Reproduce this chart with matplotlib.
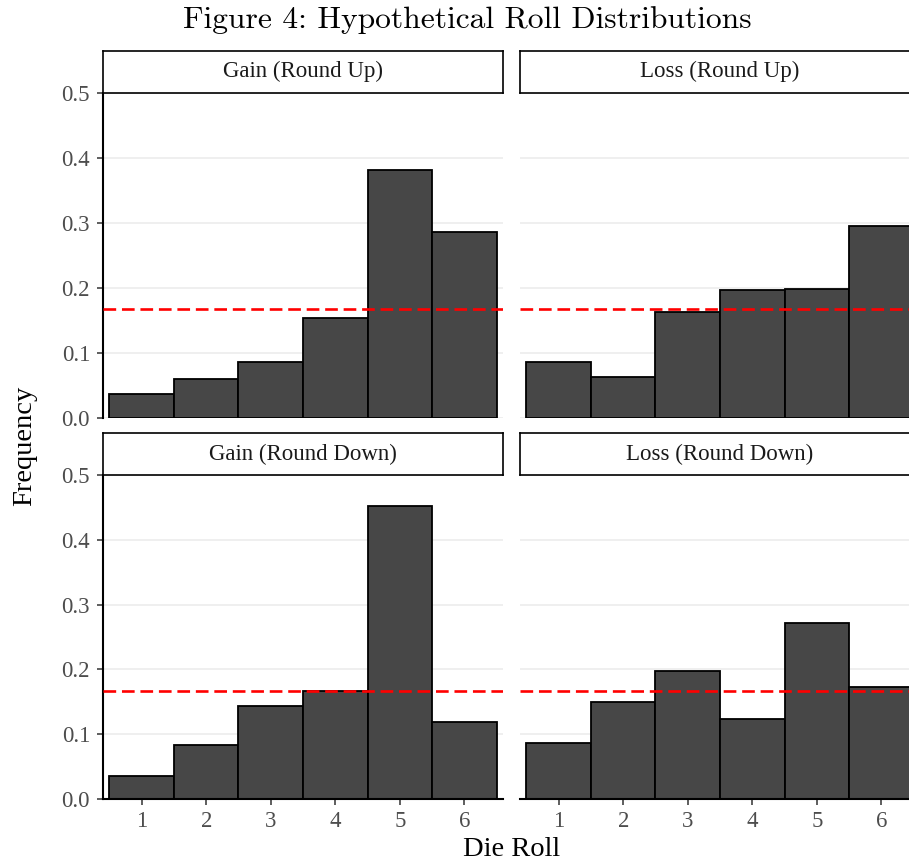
import numpy as np
import matplotlib.pyplot as plt

# die faces and observed frequencies, one list per facet
rolls = [1, 2, 3, 4, 5, 6]
gain_up = [0.036, 0.060, 0.085, 0.154, 0.381, 0.286]
loss_up = [0.086, 0.062, 0.162, 0.197, 0.198, 0.295]
gain_down = [0.036, 0.083, 0.143, 0.167, 0.452, 0.119]
loss_down = [0.086, 0.149, 0.198, 0.124, 0.272, 0.173]
panel_titles = ['Gain (Round Up)', 'Loss (Round Up)',
                'Gain (Round Down)', 'Loss (Round Down)']
y_ticks = [0.0, 0.1, 0.2, 0.3, 0.4, 0.5]
uniform = 1 / 6

W, H = 909, 864
fig = plt.figure(figsize=(W / 100, H / 100), dpi=100)
serif = 'Liberation Serif'


def box(x0, y0, w, h):
    # pixel box (from top-left) -> figure fraction rect
    return [x0 / W, 1 - (y0 + h) / H, w / W, h / H]


col_left = [103, 520]
row_top = [92.7, 475]
row_h = [325, 324]
strip_h = 41.7
panel_w = 400

series = [gain_up, loss_up, gain_down, loss_down]

for k, (vals, title) in enumerate(zip(series, panel_titles)):
    r, c = divmod(k, 2)
    ax = fig.add_axes(box(col_left[c], row_top[r], panel_w, row_h[r]))
    ax.bar(rolls, vals, width=1.0, color='#474747', edgecolor='black',
           linewidth=1.3, zorder=2)
    ax.axhline(uniform, color='red', linestyle=(0, (4.8, 2.2)),
               linewidth=1.9, zorder=3)
    ax.set_xlim(0.4, 6.6)
    ax.set_ylim(0, 0.5)
    ax.set_xticks(rolls)
    ax.set_yticks(y_ticks)
    ax.set_yticklabels(['%.1f' % t for t in y_ticks])
    ax.grid(axis='y', color='#EBEBEB', linewidth=1.1, zorder=0)
    ax.set_axisbelow(True)
    for s in ax.spines.values():
        s.set_visible(False)
    ax.tick_params(labelsize=16.5, labelcolor='#4D4D4D', color='#333333',
                   length=4.3, width=1.1)
    ax.tick_params(axis='y', pad=5)
    ax.tick_params(axis='x', pad=4)
    for lab in ax.get_xticklabels() + ax.get_yticklabels():
        lab.set_family(serif)
    if c == 0:
        ax.spines['left'].set_visible(True)
        ax.spines['left'].set_linewidth(1.5)
    else:
        ax.tick_params(axis='y', left=False, labelleft=False)
    if r == 1:
        ax.spines['bottom'].set_visible(True)
        ax.spines['bottom'].set_linewidth(1.5)
    else:
        ax.tick_params(axis='x', bottom=False, labelbottom=False)

    # facet strip
    sx = fig.add_axes(box(col_left[c], row_top[r] - strip_h, panel_w, strip_h))
    sx.set_xticks([])
    sx.set_yticks([])
    for s in sx.spines.values():
        s.set_linewidth(1.2)
        s.set_color('black')
    sx.text(0.5, 0.5, title, ha='center', va='center', fontsize=16.5,
            family=serif, color='#1A1A1A', transform=sx.transAxes)

fig.text(467 / W, 1 - 28 / H, 'Figure 4: Hypothetical Roll Distributions',
         ha='center', va='baseline', fontsize=22.7, family='cmr10')
fig.text(25 / W, 1 - 446 / H, 'Frequency', rotation=90, ha='center',
         va='center', fontsize=20.5, family=serif)
fig.text(511.5 / W, 1 - 849 / H, 'Die Roll', ha='center', va='center',
         fontsize=20.5, family=serif)

fig.savefig('out.png', dpi=100)
